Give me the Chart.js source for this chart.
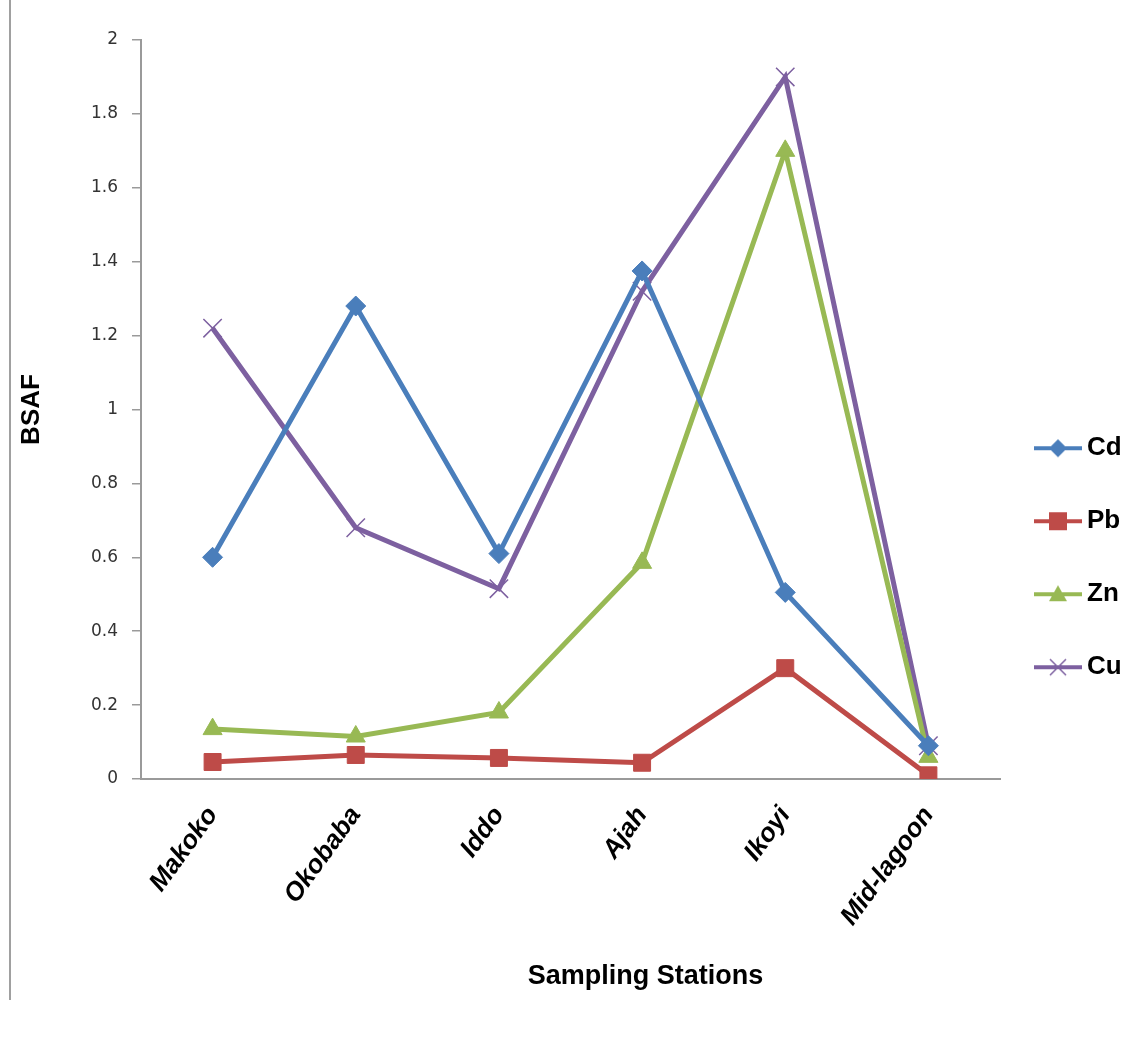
<!DOCTYPE html>
<html lang="en">
<head>
    <meta charset="UTF-8">
    <title>BSAF by Sampling Station</title>
    <script src="https://cdn.jsdelivr.net/npm/chart.js"></script>
    <style>
        body { margin: 0; background: #fff; }
        #wrap { position: relative; width: 1132px; height: 1057px; }
        #edge { position: absolute; left: 9px; top: 0; width: 2px; height: 1000px; background: #a0a0a0; }
    </style>
</head>
<body>
<div id="wrap">
    <div id="edge"></div>
    <canvas id="myChart" width="1132" height="1057"></canvas>
</div>
<script>
    // Sampling stations and BSAF values
    const stations = ['Makoko', 'Okobaba', 'Iddo', 'Ajah', 'Ikoyi', 'Mid-lagoon'];
    const cdValues = [0.60, 1.28, 0.61, 1.375, 0.505, 0.09];
    const pbValues = [0.046, 0.065, 0.057, 0.044, 0.30, 0.01];
    const znValues = [0.135, 0.115, 0.18, 0.585, 1.70, 0.06];
    const cuValues = [1.22, 0.68, 0.515, 1.32, 1.90, 0.09];
    const yTicks = [0, 0.2, 0.4, 0.6, 0.8, 1, 1.2, 1.4, 1.6, 1.8, 2];
    const xTitle = 'Sampling Stations';

    const colors = {
        Cd: '#4a7ebb',
        Pb: '#be4b48',
        Zn: '#98b954',
        Cu: '#7d60a0'
    };

    // line + marker swatch for the legend (transparent strip on the right keeps the text gap)
    function legendSwatch(color, style) {
        const c = document.createElement('canvas');
        c.width = 53; c.height = 24;
        const g = c.getContext('2d');
        g.strokeStyle = color;
        g.lineWidth = 4;
        g.beginPath(); g.moveTo(0, 12); g.lineTo(48, 12); g.stroke();
        g.fillStyle = color;
        g.beginPath();
        if (style === 'rectRot') {
            g.moveTo(24, 3); g.lineTo(33, 12); g.lineTo(24, 21); g.lineTo(15, 12); g.closePath(); g.fill();
        } else if (style === 'rect') {
            g.fillRect(15, 3, 18, 18);
        } else if (style === 'triangle') {
            g.moveTo(24, 3); g.lineTo(33, 19); g.lineTo(15, 19); g.closePath(); g.fill();
        } else {
            g.lineWidth = 1.5;
            g.moveTo(16, 4); g.lineTo(32, 20); g.moveTo(32, 4); g.lineTo(16, 20); g.stroke();
        }
        return c;
    }

    function series(label, data, style, radius, markerBorder) {
        return {
            label: label,
            data: data,
            borderColor: colors[label],
            backgroundColor: colors[label],
            borderWidth: 5,
            pointStyle: style,
            pointRadius: radius,
            pointHoverRadius: radius,
            pointBorderWidth: markerBorder,
            pointBorderColor: colors[label],
            pointBackgroundColor: colors[label],
            legendImage: legendSwatch(colors[label], style),
            tension: 0,
            fill: false
        };
    }

    // x axis title sits right of centre in the original
    const xTitlePlugin = {
        id: 'xTitle',
        afterDraw: function (chart) {
            const a = chart.chartArea;
            const g = chart.ctx;
            g.save();
            g.font = "bold 27px 'Liberation Sans', Arial";
            g.fillStyle = '#000';
            g.textAlign = 'center';
            g.textBaseline = 'middle';
            g.fillText(xTitle, (a.left + a.right) / 2 + 75, a.bottom + 198);
            g.restore();
        }
    };

    const ctx = document.getElementById('myChart').getContext('2d');
    new Chart(ctx, {
        type: 'line',
        data: {
            labels: stations,
            datasets: [
                series('Cd', cdValues, 'rectRot', 10, 1),
                series('Pb', pbValues, 'rect', 12, 1),
                series('Zn', znValues, 'triangle', 11, 1),
                series('Cu', cuValues, 'crossRot', 13, 1.5)
            ]
        },
        plugins: [xTitlePlugin],
        options: {
            responsive: false,
            animation: false,
            layout: { padding: { left: 10, top: 40, right: 8, bottom: 20 } },
            plugins: {
                tooltip: { enabled: false },
                legend: {
                    position: 'right',
                    maxWidth: 124,
                    title: { display: true, text: ' ', padding: { top: 12, bottom: 12 }, font: { size: 12 } },
                    labels: {
                        usePointStyle: true,
                        pointStyleWidth: 27,
                        padding: 47,
                        color: '#000',
                        font: { family: "'Liberation Sans', Arial", size: 26, weight: 'bold' },
                        generateLabels: function (chart) {
                            return chart.data.datasets.map(function (ds, i) {
                                return {
                                    text: ds.label,
                                    pointStyle: ds.legendImage,
                                    fillStyle: ds.borderColor,
                                    strokeStyle: ds.borderColor,
                                    lineWidth: 0,
                                    fontColor: '#000',
                                    hidden: false,
                                    datasetIndex: i
                                };
                            });
                        }
                    }
                }
            },
            scales: {
                x: {
                    offset: true,
                    grid: { display: false, drawTicks: false },
                    border: { color: '#9a9a9a', width: 2 },
                    ticks: {
                        color: '#000',
                        maxRotation: 54,
                        minRotation: 54,
                        padding: 22,
                        labelOffset: 0,
                        font: { family: "'Liberation Sans', Arial", size: 26, weight: 'bold', style: 'italic' }
                    },
                    afterFit: function (axis) { axis.height = 258; }
                },
                y: {
                    min: 0,
                    max: 2,
                    afterBuildTicks: function (axis) {
                        axis.ticks = yTicks.map(function (v) { return { value: v }; });
                    },
                    grid: { display: true, drawOnChartArea: false, tickLength: 9, color: '#9a9a9a', lineWidth: 1.5 },
                    border: { color: '#9a9a9a', width: 2 },
                    ticks: {
                        color: '#333',
                        padding: 14,
                        font: { family: "'DejaVu Sans', Verdana", size: 17 },
                        callback: function (v) { return String(Math.round(v * 10) / 10); }
                    },
                    title: {
                        display: true,
                        text: 'BSAF',
                        color: '#000',
                        padding: { top: 6, bottom: 0 },
                        font: { family: "'Liberation Sans', Arial", size: 26, weight: 'bold' }
                    },
                    afterFit: function (axis) { axis.width = 131; }
                }
            }
        }
    });
</script>
</body>
</html>
